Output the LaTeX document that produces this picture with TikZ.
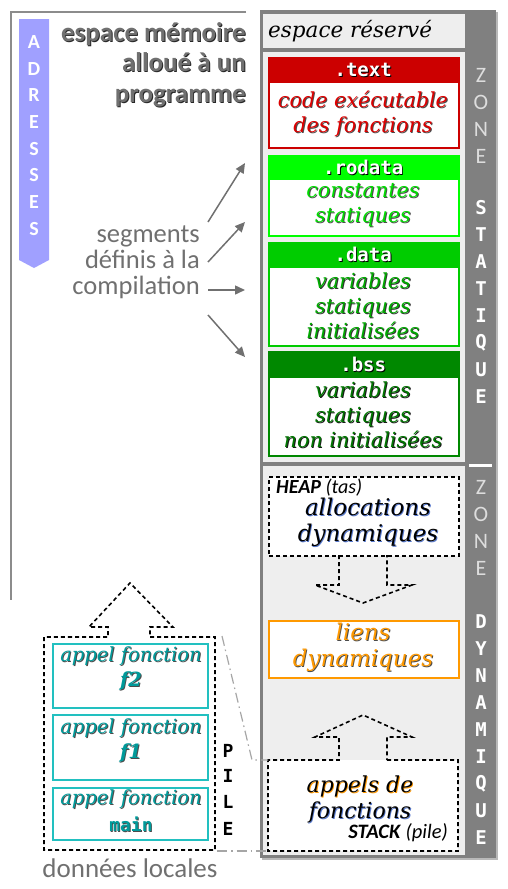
\documentclass[tikz,border=0pt]{standalone}
\usepackage{fontspec}
\newfontfamily\carlito{Carlito}
\newfontfamily\dmono{DejaVu Sans Mono}
\newfontfamily\serifc{DejaVu Serif}
\usetikzlibrary{arrows.meta}
\definecolor{colgray}{HTML}{808080}
\definecolor{bglight}{HTML}{EEEEEE}
\definecolor{redc}{HTML}{CC0000}
\definecolor{redt}{HTML}{DD0000}
\definecolor{greenA}{HTML}{00FF00}
\definecolor{greenAt}{HTML}{00DD00}
\definecolor{greenB}{HTML}{00CC00}
\definecolor{greenBt}{HTML}{00AA00}
\definecolor{greenC}{HTML}{008800}
\definecolor{greenCt}{HTML}{007700}
\definecolor{orangec}{HTML}{FF9900}
\definecolor{cyanc}{HTML}{22C0C0}
\definecolor{cyant}{HTML}{009A9A}
\definecolor{lavender}{HTML}{A0A0FF}
\definecolor{txtgray}{HTML}{707070}
\definecolor{framegray}{HTML}{8C8C8C}
\definecolor{zonelight}{HTML}{DDDDDD}
\definecolor{shadblue}{HTML}{5577CC}
\newcommand\shd[3]{\leavevmode\rlap{\kern0.9pt\raisebox{-0.9pt}{\textcolor{#2}{#3}}}\textcolor{#1}{#3}}
\begin{document}
\begin{tikzpicture}[x=1pt,y=-1pt,
  segbody/.style={font=\serifc\itshape\fontsize{20.7}{25}\selectfont, align=center, inner sep=0pt},
  hdrtext/.style={font=\dmono\bfseries\fontsize{19}{20}\selectfont, inner sep=0pt},
  segframe/.style={line width=1.5pt, fill=white, anchor=north west, minimum width=190pt, inner sep=0pt},
  hdrfill/.style={anchor=north west, minimum width=190pt, minimum height=26pt, inner sep=0pt},
  dashline/.style={dash pattern=on 4pt off 3pt, line width=1.6pt},
  zonelet/.style={font=\carlito\fontsize{22}{22}\selectfont, text=zonelight, inner sep=0pt},
  boldlet/.style={font=\dmono\bfseries\fontsize{19}{19}\selectfont, text=white, inner sep=0pt},
  adrlet/.style={font=\carlito\bfseries\fontsize{20}{20}\selectfont, text=white, inner sep=0pt},
  pilelet/.style={font=\dmono\bfseries\fontsize{18}{18}\selectfont, text=black, inner sep=0pt},
  cyanbox/.style={draw=cyanc, line width=2pt, fill=white, anchor=north west, minimum width=155pt, inner sep=0pt},
  cyantext/.style={font=\serifc\itshape\fontsize{19.5}{23}\selectfont, inner sep=0pt},
  segarrow/.style={draw=txtgray, line width=1.5pt, -{Triangle[length=10pt,width=9pt]}},
  dashdot/.style={draw=gray!70, line width=1.2pt, dash pattern=on 10pt off 4pt on 1.5pt off 4pt}
]
\useasboundingbox (0,0) rectangle (508,889);

% outer frame
\draw[framegray, line width=2pt] (246,12) -- (11,12) -- (11,600);

% main column
\fill[gray!55] (262,12) rectangle (498,860);
\fill[colgray] (260,10) rectangle (496,858);
\fill[bglight] (263,14) rectangle (465,48);
\fill[bglight] (263,52) rectangle (465,462);
\fill[bglight] (263,466) rectangle (465,855);
\fill[white] (469,463.5) rectangle (492,467);

\node[font=\serifc\itshape\fontsize{21.5}{21.5}\selectfont, anchor=west, inner sep=0pt] (reserve) at (268,31) {espace réservé};

% .text
\node[segframe, draw=redc, minimum height=90pt] (textbox) at (268,57) {};
\node[hdrfill, fill=redc] (texthdr) at (268,57) {};
\node[hdrtext] at (texthdr.center) {\shd{white}{black}{.text}};
\node[segbody] at (363,114) {\shd{redt}{black!70}{code exécutable}\\\shd{redt}{black!70}{des fonctions}};

% .rodata
\node[segframe, draw=greenA, minimum height=80pt] (rodatabox) at (268,155) {};
\node[hdrfill, fill=greenA, minimum height=25pt] (rodatahdr) at (268,155) {};
\node[hdrtext] at (rodatahdr.center) {\shd{white}{black}{.rodata}};
\node[segbody] at (363,206) {\shd{greenAt}{black!70}{constantes}\\\shd{greenAt}{black!70}{statiques}};

% .data
\node[segframe, draw=greenB, minimum height=103pt] (databox) at (268,242) {};
\node[hdrfill, fill=greenB] (datahdr) at (268,242) {};
\node[hdrtext] at (datahdr.center) {\shd{white}{black}{.data}};
\node[segbody] at (363,306) {\shd{greenBt}{black!80}{variables}\\\shd{greenBt}{black!80}{statiques}\\\shd{greenBt}{black!80}{initialisées}};

% .bss
\node[segframe, draw=greenC, minimum height=104pt] (bssbox) at (268,351) {};
\node[hdrfill, fill=greenC, minimum height=27pt] (bsshdr) at (268,351) {};
\node[hdrtext] at (bsshdr.center) {\shd{white}{black}{.bss}};
\node[segbody] at (363,415) {\shd{greenCt}{black!90}{variables}\\\shd{greenCt}{black!90}{statiques}\\\shd{greenCt}{black!90}{non initialisées}};

% heap
\node[draw=black, dashline, fill=white, anchor=north west, minimum width=190pt, minimum height=79pt, inner sep=0pt] (heapbox) at (268,476) {};
\node[font=\carlito\fontsize{20}{20}\selectfont, anchor=west, inner sep=0pt] (heaplbl) at (276,488) {\textbf{\textit{HEAP}} \textit{(tas)}};
\node[segbody, font=\serifc\itshape\fontsize{23}{26}\selectfont] (heaptext) at (368,523) {\shd{black}{shadblue}{allocations}\\\shd{black}{shadblue}{dynamiques}};
\draw[dashline] (339,555) -- (339,585) -- (315,585) -- (363,603) -- (412,585) -- (387,585) -- (387,555);

% liens
\node[draw=orangec, line width=1.8pt, fill=white, anchor=north west, minimum width=190pt, minimum height=57pt, inner sep=0pt] (liensbox) at (268,620) {};
\node[segbody, font=\serifc\itshape\fontsize{23}{26}\selectfont] (lienstext) at (363,648) {\shd{orangec}{black!70}{liens}\\\shd{orangec}{black!70}{dynamiques}};

% stack
\fill[white] (268,760) rectangle (458,851);
\draw[dashline] (387,760) -- (458,760) -- (458,851) -- (268,851) -- (268,760) -- (339,760) -- (339,737) -- (315,737) -- (363,715) -- (412,737) -- (387,737) -- cycle;
\node[segbody, font=\serifc\itshape\fontsize{22}{26}\selectfont] (stacktext) at (360,800) {\shd{black}{orangec}{appels de}\\\shd{black}{shadblue}{fonctions}};
\node[font=\carlito\fontsize{20.5}{20.5}\selectfont, anchor=east, inner sep=0pt] (stacklbl) at (448,833) {\textbf{\textit{STACK}} \textit{(pile)}};
\coordinate (stacktl) at (268,760);
\coordinate (stackbl) at (268,851);

% right strip letters
\foreach \l [count=\i from 0] in {Z,O,N,E} {
  \node[zonelet] at (481,75+27.3*\i) {\l};
  \node[zonelet] at (481,487+27*\i) {\l};
}
\foreach \l [count=\i from 0] in {S,T,A,T,I,Q,U,E}
  \node[boldlet] at (481,208+27*\i) {\l};
\foreach \l [count=\i from 0] in {D,Y,N,A,M,I,Q,U,E}
  \node[boldlet] at (481,622+27*\i) {\l};

% adresses bar
\fill[lavender] (19,19) -- (49,19) -- (49,260) -- (34,268) -- (19,260) -- cycle;
\foreach \l [count=\i from 0] in {A,D,R,E,S,S,E,S}
  \node[adrlet] at (34,42+26.7*\i) {\l};

% title
\node[font=\carlito\bfseries\fontsize{27}{30.5}\selectfont, align=right, anchor=east, inner sep=0pt] (title) at (246,65)
  {\shd{txtgray}{black!85}{espace mémoire}\\\shd{txtgray}{black!85}{alloué à un}\\\shd{txtgray}{black!85}{programme}};

% segments label
\node[font=\carlito\fontsize{26.5}{26}\selectfont, text=txtgray, align=right, anchor=east, inner sep=0pt] (seglbl) at (200,262) {segments\\définis à la\\compilation};
\coordinate (a1s) at (208,222); \coordinate (a1e) at (245,163);
\coordinate (a2s) at (208,262); \coordinate (a2e) at (245,222);
\coordinate (a3s) at (208,290); \coordinate (a3e) at (245,290);
\coordinate (a4s) at (208,315); \coordinate (a4e) at (245,357);
\draw[segarrow] (a1s) -- (a1e);
\draw[segarrow] (a2s) -- (a2e);
\draw[segarrow] (a3s) -- (a3e);
\draw[segarrow] (a4s) -- (a4e);

% local stack (pile)
\draw[dashline] (150,637) -- (215,637) -- (215,850) -- (44,850) -- (44,637) -- (108,637) -- (108,627) -- (89,627) -- (130,583) -- (173,627) -- (150,627) -- cycle;
\node[cyanbox, minimum height=64pt] (f2box) at (52,643) {};
\node[cyanbox, minimum height=65pt] (f1box) at (52,714) {};
\node[cyanbox, minimum height=52pt] (mainbox) at (52,787) {};
\node[cyantext] at (131,657) {\shd{cyant}{black!70}{appel fonction}};
\node[cyantext] at (131,681) {\shd{cyant}{black!70}{\bfseries f2}};
\node[cyantext] at (131,729) {\shd{cyant}{black!70}{appel fonction}};
\node[cyantext] at (131,753) {\shd{cyant}{black!70}{\bfseries f1}};
\node[cyantext] at (131,800) {\shd{cyant}{black!70}{appel fonction}};
\node[font=\dmono\bfseries\fontsize{18}{18}\selectfont, inner sep=0pt] at (131,825) {\shd{cyant}{black!70}{main}};
\foreach \l/\y in {P/751,I/776,L/802,E/829}
  \node[pilelet] at (228,\y) {\l};
\coordinate (pilet) at (222,636);
\coordinate (pileb) at (217,851);
\draw[dashdot] (pilet) -- (252,760) -- (stacktl);
\draw[dashdot] (pileb) -- (stackbl);

\node[font=\carlito\fontsize{27}{27}\selectfont, text=txtgray, inner sep=0pt] (locales) at (130,868) {données locales};
\end{tikzpicture}
\end{document}
